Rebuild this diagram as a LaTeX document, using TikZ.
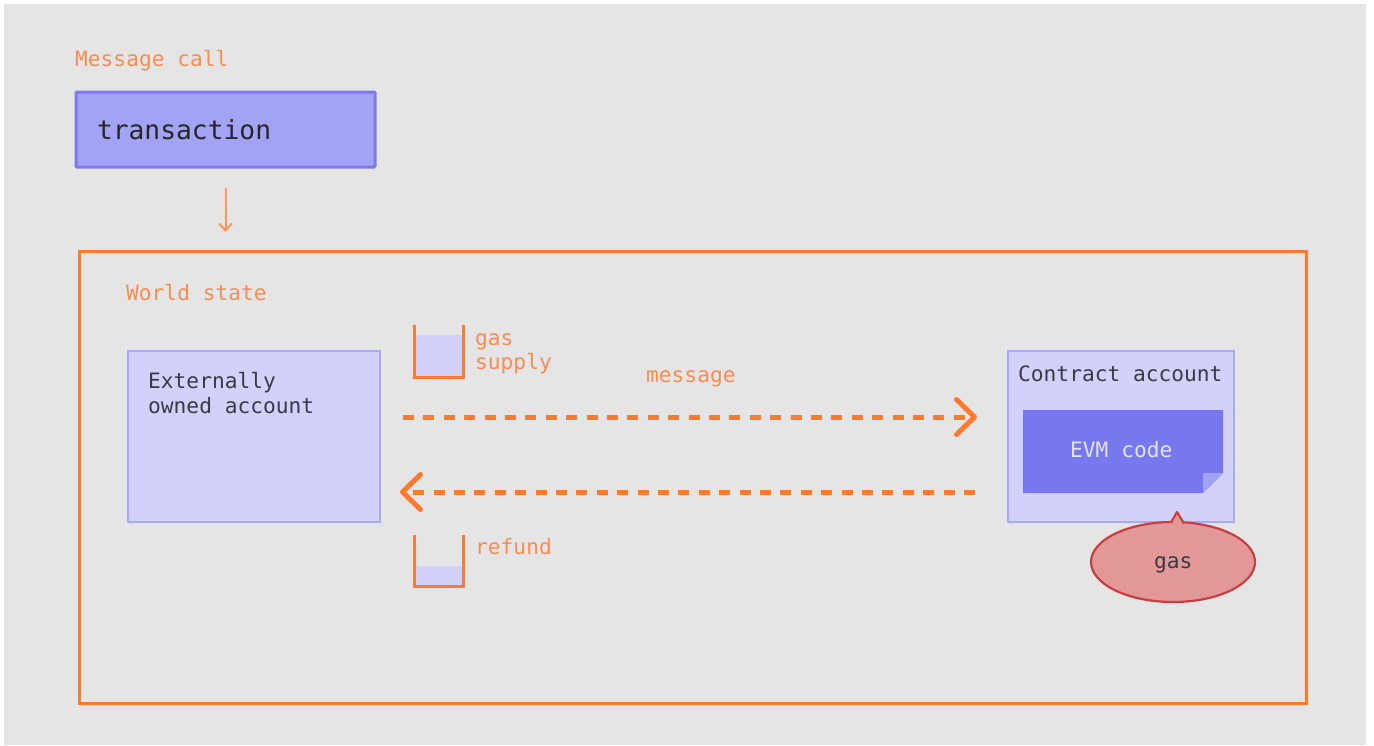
\documentclass[tikz,border=0pt]{standalone}
\usepackage{fontspec}
\setmonofont{DejaVu Sans Mono}
\usetikzlibrary{positioning,arrows.meta,shapes.geometric}
\definecolor{bggray}{HTML}{E5E5E5}
\definecolor{lineorange}{HTML}{FF7A2E}
\definecolor{textorange}{HTML}{F88C55}
\definecolor{txfill}{HTML}{A3A3F5}
\definecolor{txline}{HTML}{7B7BEE}
\definecolor{acfill}{HTML}{D1D1FA}
\definecolor{acline}{HTML}{A9A9F6}
\definecolor{evmfill}{HTML}{7878EE}
\definecolor{gasfill}{HTML}{E39898}
\definecolor{gasline}{HTML}{C83F3F}
\definecolor{inktext}{HTML}{3A3A44}
\tikzstyle{lbl} = [inner sep=0pt, anchor=base west, text=textorange, font=\ttfamily\fontsize{21.2}{25}\selectfont]
\tikzstyle{inklbl} = [lbl, text=inktext]
\tikzstyle{account} = [draw=acline, fill=acfill, line width=2.5pt, outer sep=0pt, anchor=north west]
\tikzstyle{msgarrow} = [lineorange, line width=5pt, dash pattern=on 11pt off 9.4pt, -{Straight Barb[length=18pt,width=35pt,line width=5pt,round]}]
\tikzstyle{bucket} = [lineorange, line width=3pt]

\begin{document}
\begin{tikzpicture}[x=1pt,y=-1pt]
    \useasboundingbox (0,0) rectangle (1374,745);
    \fill [bggray] (4,4) rectangle (1366,745);

    \node (call) [lbl] at (75,66) {Message call};
    \node (tx) [draw=txline, fill=txfill, line width=3pt, outer sep=0pt, rounded corners=1pt, anchor=north west, minimum width=299pt, minimum height=75pt, text width=257pt, align=left, text=black!85, font=\ttfamily\fontsize{26.3}{30}\selectfont] at (76,92) {transaction};

    \node (world) [draw=lineorange, line width=3pt, outer sep=0pt, anchor=north west, minimum width=1227pt, minimum height=452pt] at (79,251) {};
    \draw [lineorange!80!white, line width=2pt, shorten <=21pt, shorten >=19pt, -{Straight Barb[length=7pt,width=13pt]}] (tx.south) -- (tx.south |- world.north);
    \node (state) [lbl] at (126,300) {World state};

    \node (eoa) [account, minimum width=252pt, minimum height=171pt] at (128,351) {};
    \node (eoatext) [inklbl] at (148,388) {Externally};
    \node (eoatext2) [inklbl] at (148,413) {owned account};

    \node (contract) [account, minimum width=226pt, minimum height=171pt] at (1008,351) {};
    \node (contracttext) [inklbl] at (1018,381) {Contract account};

    \fill [evmfill] (1023,410) -- (1223,410) -- (1223,473) -- (1203,493) -- (1023,493) -- cycle;
    \fill [txfill] (1203,473) -- (1223,473) -- (1203,493) -- cycle;
    \node (evm) [lbl, text=acfill!60!white] at (1070,457) {EVM code};

    \draw [msgarrow] ([xshift=23pt,yshift=19.5pt]eoa.east) -- ([xshift=-31pt,yshift=19.5pt]contract.west);
    \draw [msgarrow] ([xshift=-33pt,yshift=-55.5pt]contract.west) -- ([xshift=20pt,yshift=-55.5pt]eoa.east);
    \node (message) [lbl] at (646,382) {message};

    % gas supply bucket
    \fill [acfill] (415,335) rectangle (463,377);
    \draw [bucket] (414.5,325) -- (414.5,377.5) -- (463.5,377.5) -- (463.5,325);
    \node (gas) [lbl] at (475,345) {gas};
    \node (supply) [lbl] at (475,369) {supply};

    % refund bucket
    \fill [acfill] (415,566) rectangle (463,586);
    \draw [bucket] (414.5,535) -- (414.5,586.5) -- (463.5,586.5) -- (463.5,535);
    \node (refund) [lbl] at (475,554) {refund};

    \node (gascost) [ellipse, draw=gasline, fill=gasfill, line width=2.2pt, minimum width=164pt, minimum height=80pt, inner sep=0pt] at (1173,562) {};
    \draw [gasline, fill=gasfill, line width=2.2pt, line join=round] (1171,522.5) -- (1177,512) -- (1184,523.5);
    \fill [gasfill] (1172.5,524.5) -- (1177,516) -- (1182.5,525) -- cycle;
    \node (gaslabel) [inklbl] at (1154,568) {gas};
  \end{tikzpicture}
\end{document}
